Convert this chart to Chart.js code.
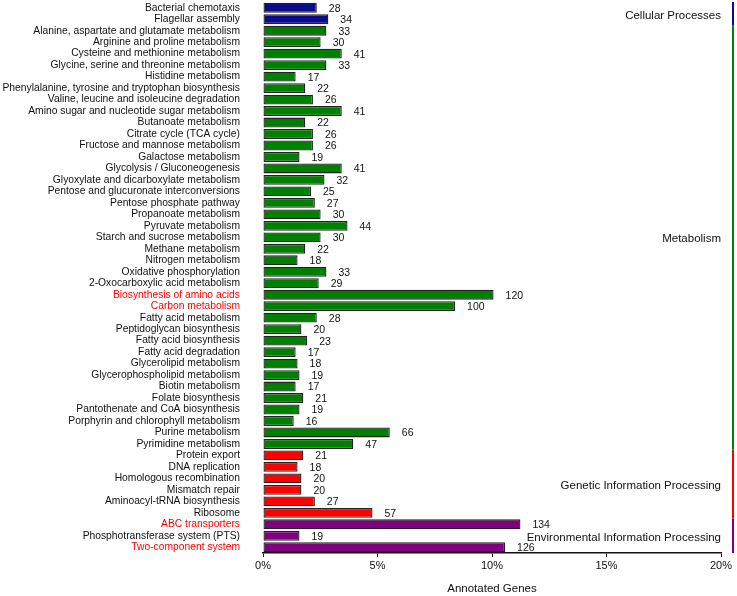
<!DOCTYPE html>
<html>
<head>
<meta charset="utf-8">
<script src="https://cdn.jsdelivr.net/npm/chart.js@4"></script>
<style>
  html, body { margin: 0; padding: 0; background: #fff; }
  #wrap { width: 737px; height: 596px; }
</style>
</head>
<body>
<div id="wrap"><canvas id="myChart" width="737" height="596"></canvas></div>
<script>
const categories = [
  "Bacterial chemotaxis", "Flagellar assembly",
  "Alanine, aspartate and glutamate metabolism", "Arginine and proline metabolism",
  "Cysteine and methionine metabolism", "Glycine, serine and threonine metabolism",
  "Histidine metabolism", "Phenylalanine, tyrosine and tryptophan biosynthesis",
  "Valine, leucine and isoleucine degradation", "Amino sugar and nucleotide sugar metabolism",
  "Butanoate metabolism", "Citrate cycle (TCA cycle)", "Fructose and mannose metabolism",
  "Galactose metabolism", "Glycolysis / Gluconeogenesis", "Glyoxylate and dicarboxylate metabolism",
  "Pentose and glucuronate interconversions", "Pentose phosphate pathway", "Propanoate metabolism",
  "Pyruvate metabolism", "Starch and sucrose metabolism", "Methane metabolism",
  "Nitrogen metabolism", "Oxidative phosphorylation", "2-Oxocarboxylic acid metabolism",
  "Biosynthesis of amino acids", "Carbon metabolism", "Fatty acid metabolism",
  "Peptidoglycan biosynthesis", "Fatty acid biosynthesis", "Fatty acid degradation",
  "Glycerolipid metabolism", "Glycerophospholipid metabolism", "Biotin metabolism",
  "Folate biosynthesis", "Pantothenate and CoA biosynthesis", "Porphyrin and chlorophyll metabolism",
  "Purine metabolism", "Pyrimidine metabolism",
  "Protein export", "DNA replication", "Homologous recombination", "Mismatch repair",
  "Aminoacyl-tRNA biosynthesis", "Ribosome",
  "ABC transporters", "Phosphotransferase system (PTS)", "Two-component system"
];

const geneCounts = [
  28, 34,
  33, 30, 41, 33, 17, 22, 26, 41, 22, 26, 26, 19, 41, 32, 25, 27, 30, 44, 30, 22, 18, 33, 29,
  120, 100, 28, 20, 23, 17, 18, 19, 17, 21, 19, 16, 66, 47,
  21, 18, 20, 20, 27, 57,
  134, 19, 126
];

// total annotated genes used for the percentage axis
const totalGenes = 1192;

const groupNames = [
  "Cellular Processes", "Metabolism",
  "Genetic Information Processing", "Environmental Information Processing"
];
const groupSizes = [2, 37, 6, 3];
const groupColors = ["#0c0c8a", "#008000", "#ff0000", "#800080"];

const redLabels = ["Biosynthesis of amino acids", "Carbon metabolism", "ABC transporters", "Two-component system"];

const xTicks = [0, 5, 10, 15, 20];

document.addEventListener("DOMContentLoaded", () => {
  const FONT = "'Liberation Sans', Arial, sans-serif";
  const barGroup = [];
  groupSizes.forEach((n, g) => { for (let i = 0; i < n; i++) barGroup.push(g); });
  const barColors = barGroup.map((g) => groupColors[g]);
  const percents = geneCounts.map((c) => (c / totalGenes) * 100);

  const extras = {
    id: "extras",
    afterDatasetsDraw(chart) {
      const { ctx, chartArea, scales } = chart;
      const meta = chart.getDatasetMeta(0);
      ctx.save();
      // value labels
      ctx.font = "10.5px " + FONT;
      ctx.fillStyle = "#111";
      ctx.textBaseline = "middle";
      ctx.textAlign = "left";
      meta.data.forEach((bar, i) => {
        ctx.fillText(String(geneCounts[i]), bar.x + 12, bar.y + 1);
      });
      // group bars and labels
      const step = scales.y.getPixelForValue(1) - scales.y.getPixelForValue(0);
      let start = 0;
      groupSizes.forEach((n, g) => {
        const top = scales.y.getPixelForValue(start) - step / 2;
        const bottom = scales.y.getPixelForValue(start + n - 1) + step / 2;
        ctx.fillStyle = groupColors[g];
        ctx.fillRect(732, top, 2, bottom - top);
        ctx.fillStyle = "#111";
        ctx.font = "11.5px " + FONT;
        ctx.textAlign = "right";
        ctx.fillText(groupNames[g], chartArea.right, (top + bottom) / 2 + 2);
        start += n;
      });
      ctx.restore();
    }
  };

  const ctx = document.getElementById("myChart").getContext("2d");
  new Chart(ctx, {
    type: "bar",
    data: {
      labels: categories,
      datasets: [{
        data: percents,
        backgroundColor: barColors,
        borderColor: "#222",
        borderWidth: 1.3,
        borderSkipped: false,
        barPercentage: 0.86,
        categoryPercentage: 1
      }]
    },
    options: {
      indexAxis: "y",
      responsive: false,
      animation: false,
      layout: { padding: { top: 2, right: 16, bottom: 0, left: 0 } },
      plugins: { legend: { display: false }, tooltip: { enabled: false } },
      scales: {
        x: {
          min: 0,
          max: 20,
          afterBuildTicks: (axis) => { axis.ticks = xTicks.map((v) => ({ value: v })); },
          ticks: {
            callback: (v) => v + "%",
            color: "#111",
            font: { family: FONT, size: 11 },
            padding: 2
          },
          grid: { drawOnChartArea: false, tickLength: 4, color: "#111", tickWidth: 1 },
          border: { display: true, color: "#111", width: 1.5 },
          title: {
            display: true,
            text: "Annotated Genes",
            color: "#111",
            font: { family: FONT, size: 11.5 },
            padding: { top: 12, bottom: 0 }
          },
          afterFit: (axis) => { axis.height = 43; }
        },
        y: {
          grid: { display: false },
          border: { display: false },
          ticks: {
            autoSkip: false,
            padding: 15,
            color: (c) => (redLabels.includes(categories[c.index]) ? "#ff0000" : "#111"),
            font: { family: FONT, size: 10.3 }
          },
          afterFit: (axis) => {
            axis.width = 263;
            axis.paddingTop = 0;
            axis.paddingBottom = 0;
          }
        }
      }
    },
    plugins: [extras]
  });
});
</script>
</body>
</html>
